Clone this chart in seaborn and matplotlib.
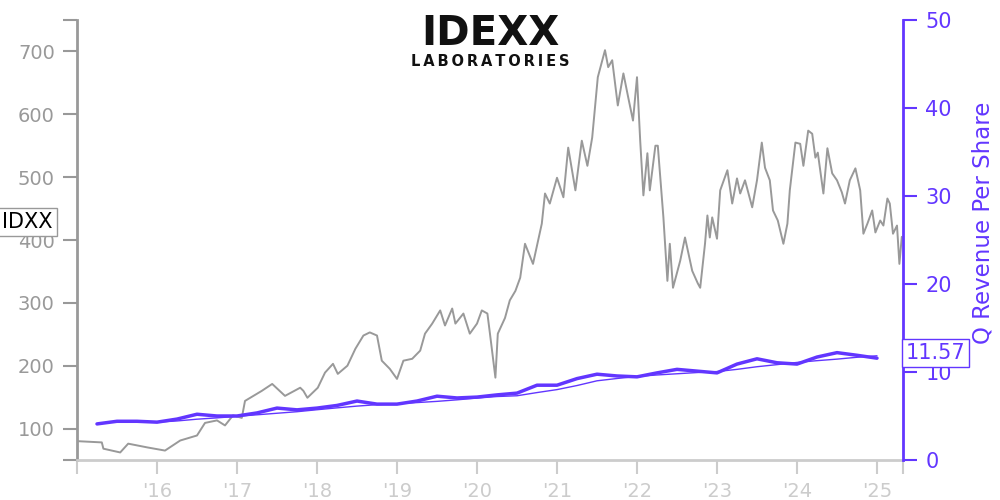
import numpy as np
import pandas as pd
import seaborn as sns
import matplotlib.pyplot as plt

# IDXX share price (decimal year, close)
price_dates = [2015.00, 2015.16, 2015.31, 2015.33, 2015.54, 2015.64, 2015.88, 2016.10, 2016.29, 2016.50,
               2016.60, 2016.75, 2016.85, 2016.95, 2017.06, 2017.10, 2017.31, 2017.44, 2017.60, 2017.79,
               2017.83, 2017.88, 2018.01, 2018.10, 2018.20, 2018.26, 2018.38, 2018.48, 2018.58, 2018.66,
               2018.75, 2018.81, 2018.91, 2019.00, 2019.08, 2019.19, 2019.29, 2019.35, 2019.44, 2019.54,
               2019.60, 2019.69, 2019.73, 2019.83, 2019.91, 2020.00, 2020.06, 2020.13, 2020.16, 2020.23,
               2020.26, 2020.35, 2020.41, 2020.48, 2020.54, 2020.60, 2020.70, 2020.81, 2020.85, 2020.91,
               2021.00, 2021.08, 2021.14, 2021.23, 2021.31, 2021.38, 2021.44, 2021.51, 2021.60, 2021.64,
               2021.69, 2021.76, 2021.83, 2021.89, 2021.95, 2022.00, 2022.04, 2022.08, 2022.13, 2022.16,
               2022.23, 2022.26, 2022.33, 2022.38, 2022.41, 2022.45, 2022.54, 2022.60, 2022.69, 2022.76,
               2022.79, 2022.85, 2022.88, 2022.91, 2022.94, 2023.00, 2023.04, 2023.13, 2023.19, 2023.25,
               2023.29, 2023.35, 2023.44, 2023.50, 2023.56, 2023.60, 2023.66, 2023.70, 2023.76, 2023.83,
               2023.88, 2023.91, 2023.98, 2024.04, 2024.08, 2024.14, 2024.19, 2024.23, 2024.26, 2024.33,
               2024.38, 2024.44, 2024.50, 2024.56, 2024.60, 2024.66, 2024.73, 2024.79, 2024.83, 2024.88,
               2024.94, 2024.98, 2025.04, 2025.08, 2025.13, 2025.16, 2025.20, 2025.25, 2025.28, 2025.31]
price_values = [80, 79, 78, 68, 62, 76, 70, 65, 81, 89,
                109, 113, 105, 121, 117, 144, 160, 171, 152, 165,
                160, 149, 165, 189, 203, 187, 200, 227, 248, 253,
                248, 208, 195, 179, 208, 211, 224, 251, 267, 288,
                264, 291, 267, 283, 251, 267, 288, 283, 253, 181,
                251, 276, 304, 319, 340, 394, 362, 426, 474, 458,
                499, 468, 547, 479, 558, 518, 563, 659, 702, 675,
                686, 614, 665, 627, 590, 659, 558, 471, 538, 479,
                550, 550, 436, 335, 394, 324, 367, 404, 351, 331,
                324, 394, 439, 404, 436, 402, 479, 511, 458, 498,
                474, 495, 452, 495, 555, 515, 495, 447, 431, 394,
                426, 479, 555, 553, 518, 574, 569, 531, 539, 474,
                546, 506, 495, 476, 458, 495, 514, 479, 410, 426,
                447, 412, 431, 423, 466, 458, 410, 423, 362, 405]

# quarterly revenue per share
rev_dates = [2015.25, 2015.50, 2015.75, 2016.00, 2016.25, 2016.50, 2016.75, 2017.00,
             2017.25, 2017.50, 2017.75, 2018.00, 2018.25, 2018.50, 2018.75, 2019.00,
             2019.25, 2019.50, 2019.75, 2020.00, 2020.25, 2020.50, 2020.75, 2021.00,
             2021.25, 2021.50, 2021.75, 2022.00, 2022.25, 2022.50, 2022.75, 2023.00,
             2023.25, 2023.50, 2023.75, 2024.00, 2024.25, 2024.50, 2024.75, 2025.00]
rev_values = [4.1, 4.4, 4.4, 4.3, 4.65, 5.2, 5.0, 5.0,
              5.35, 5.9, 5.7, 5.9, 6.2, 6.7, 6.35, 6.35,
              6.7, 7.25, 7.05, 7.15, 7.4, 7.6, 8.5, 8.5,
              9.25, 9.75, 9.55, 9.45, 9.9, 10.3, 10.1, 9.9,
              10.9, 11.5, 11.05, 10.9, 11.7, 12.2, 11.9, 11.57]

year_ticks = [2016, 2017, 2018, 2019, 2020, 2021, 2022, 2023, 2024, 2025]
year_labels = ["'16", "'17", "'18", "'19", "'20", "'21", "'22", "'23", "'24", "'25"]

PURPLE = '#6236ff'
GRAY = '#999999'
LIGHT = '#cccccc'

sns.set_style("white")
plt.rcParams['font.family'] = ['DejaVu Sans']

price_df = pd.DataFrame({'date': price_dates, 'close': price_values})
rev_df = pd.DataFrame({'date': rev_dates, 'rps': rev_values})
# trailing four-quarter average
rev_df['avg'] = rev_df['rps'].rolling(4).mean()

fig, ax = plt.subplots(figsize=(10, 5), dpi=100)
fig.subplots_adjust(left=0.077, right=0.903, bottom=0.08, top=0.96)

sns.lineplot(data=price_df, x='date', y='close', ax=ax, color=GRAY, linewidth=1.4,
             estimator=None, sort=False)
x_end = 2015 + 826 / 80
ax.set_xlim(2015.0, x_end)
ax.set_ylim(50, 750)
ax.set_xlabel('')
ax.set_ylabel('')

ax2 = ax.twinx()
sns.lineplot(data=rev_df, x='date', y='avg', ax=ax2, color=PURPLE, linewidth=1.0)
sns.lineplot(data=rev_df, x='date', y='rps', ax=ax2, color=PURPLE, linewidth=2.5)
ax2.set_ylim(0, 50)
ax2.set_xlim(2015.0, x_end)
ax2.set_ylabel('Q Revenue Per Share', color=PURPLE, fontsize=16.5)
ax2.yaxis.set_label_coords(1.083, 0.54)
ax2.set_xlabel('')

# spines
ax.spines['top'].set_visible(False)
ax.spines['right'].set_visible(False)
ax.spines['left'].set_color(GRAY)
ax.spines['left'].set_linewidth(2)
ax.spines['bottom'].set_color(LIGHT)
ax.spines['bottom'].set_linewidth(2)
for side in ['top', 'left', 'bottom']:
    ax2.spines[side].set_visible(False)
ax2.spines['right'].set_color(PURPLE)
ax2.spines['right'].set_linewidth(2)

# left axis ticks
ax.set_yticks([100, 200, 300, 400, 500, 600, 700])
ax.set_yticks([50, 750], minor=True)
ax.tick_params(axis='y', which='both', left=True, colors=GRAY, labelcolor=GRAY,
               labelsize=14, length=10, width=1.5, pad=6)
# bottom axis ticks
ax.set_xticks(year_ticks)
ax.set_xticklabels(year_labels)
ax.set_xticks([2015.0, x_end], minor=True)
ax.tick_params(axis='x', which='both', bottom=True, colors=LIGHT, labelcolor=LIGHT,
               labelsize=14, length=10, width=1.5, pad=6)
# right axis ticks
ax2.set_yticks([0, 10, 20, 30, 40, 50])
ax2.tick_params(axis='y', which='both', right=True, colors=PURPLE, labelcolor=PURPLE,
                labelsize=15, length=10, width=1.5, pad=6)

# ticker label on the left
ax.text(-0.091, 0.541, 'IDXX', transform=ax.transAxes, ha='left', va='center',
        fontsize=15, color='black', zorder=10,
        bbox=dict(boxstyle='square,pad=0.2', fc='white', ec=GRAY, lw=1))
# last value label on the right
ax2.text(1.003, 0.243, f'{rev_values[-1]:.2f}', transform=ax2.transAxes,
         ha='left', va='center', fontsize=15, color=PURPLE, zorder=10, clip_on=False,
         bbox=dict(boxstyle='square,pad=0.18', fc='white', ec=PURPLE, lw=1))

# logo
fig.text(0.49, 0.932, 'IDEXX', ha='center', va='center', fontsize=29,
         fontweight='black', color='#111111')
fig.text(0.49, 0.878, '\u2009'.join('LABORATORIES'), ha='center', va='center',
         fontsize=10.5, fontweight='bold', color='#111111')

plt.savefig('out.png', dpi=100)
